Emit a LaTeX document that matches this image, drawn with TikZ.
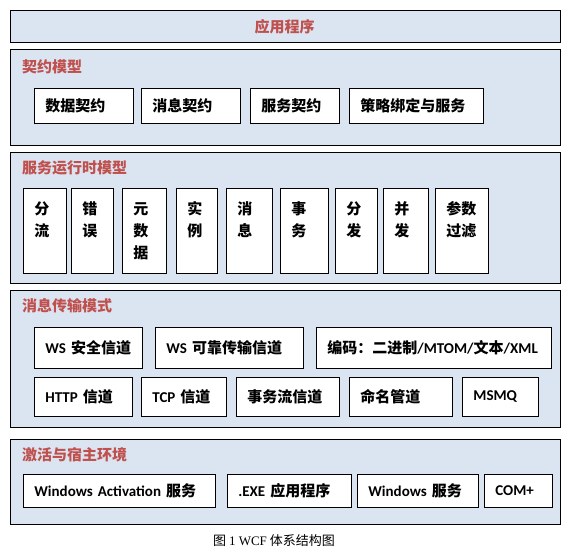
\documentclass[tikz,border=0pt]{standalone}
\usepackage{fontspec}
\setmainfont{Liberation Serif}
\newfontfamily\cjk{Noto Sans CJK SC}
\newfontfamily\lat{Carlito}
\usetikzlibrary{positioning}
\definecolor{panelblue}{HTML}{DBE5F1}
\definecolor{titlered}{HTML}{C0504D}

\begin{document}
\begin{tikzpicture}[x=1pt, y=-1pt,
  frame/.style={draw, fill=panelblue, anchor=north west, minimum width=550pt, inner sep=0pt, line width=1pt},
  cell/.style={draw, fill=white, anchor=north west, inner xsep=11pt, inner ysep=0pt, align=left, line width=0.8pt, font=\cjk\bfseries\fontsize{15}{22}\selectfont},
  col/.style={cell, text height=26pt, text depth=59pt},
  title/.style={anchor=west, inner sep=0pt, text=titlered, font=\cjk\bfseries\fontsize{15}{18}\selectfont},
  caption/.style={inner sep=0pt, font=\cjk\fontsize{13}{15}\selectfont}
]
\useasboundingbox (0,0) rectangle (571,553);

% layers
\node[frame, minimum height=32pt] (app) at (10,10.5) {};
\node[frame, minimum height=96pt] (contract) at (10,49) {};
\node[frame, minimum height=131pt] (runtime) at (10,152) {};
\node[frame, minimum height=137pt] (message) at (10,290) {};
\node[frame, minimum height=85pt] (host) at (10,439) {};

\node[title, anchor=center] (apptitle) at ([xshift=-1pt]app.center) {应用程序};
\node[title] (contracttitle) at ([xshift=12pt,yshift=-18pt]contract.north west) {契约模型};
\node[title] (runtimetitle) at ([xshift=12pt,yshift=-16pt]runtime.north west) {服务运行时模型};
\node[title] (messagetitle) at ([xshift=12pt,yshift=-16pt]message.north west) {消息传输模式};
\node[title] (hosttitle) at ([xshift=12pt,yshift=-16pt]host.north west) {激活与宿主环境};

% contract model
\node[cell, text width=77pt, minimum height=35pt] (datac) at (34,88) {数据契约};
\node[cell, text width=77pt, minimum height=35pt] (msgc) at (141,88) {消息契约};
\node[cell, text width=67pt, minimum height=35pt] (svcc) at (250,88) {服务契约};
\node[cell, text width=112pt, minimum height=35pt] (policy) at (349,88) {策略绑定与服务};

% service runtime
\node[col, text width=21pt] (split) at (23,188) {分\\流};
\node[col, text width=20pt] (fault) at (71,188) {错\\误};
\node[col, text width=22pt] (meta) at (122,188) {元\\数\\据};
\node[col, text width=19pt] (inst) at (176,188) {实\\例};
\node[col, text width=24pt] (msg) at (226,188) {消\\息};
\node[col, text width=26pt] (trans) at (280,188) {事\\务};
\node[col, text width=20pt] (dispatch) at (335,188) {分\\发};
\node[col, text width=23pt] (conc) at (383,188) {并\\发};
\node[col, text width=31pt] (param) at (435,188) {参数\\过滤};

% messaging
\node[cell, text width=86pt, minimum height=41pt] (wssec) at (34,327) {{\lat WS} 安全信道};
\node[cell, text width=126pt, minimum height=41pt] (wsrel) at (155,327) {{\lat WS} 可靠传输信道};
\node[cell, text width=213pt, minimum height=41pt] (enc) at (316,327) {编码：二进制{\lat /MTOM/}文本{\lat /XML}};
\node[cell, text width=76pt, minimum height=39pt] (http) at (34,377) {{\lat HTTP} 信道};
\node[cell, text width=63pt, minimum height=39pt] (tcp) at (141,377) {{\lat TCP} 信道};
\node[cell, text width=81pt, minimum height=39pt] (tflow) at (236,377) {事务流信道};
\node[cell, text width=81pt, minimum height=39pt] (pipe) at (349,377) {命名管道};
\node[cell, text width=54pt, minimum height=39pt] (msmq) at (462,377) {{\lat MSMQ}};

% activation and hosting
\node[cell, text width=170pt, minimum height=33pt] (was) at (23,474) {{\lat Windows Activation} 服务};
\node[cell, text width=102pt, minimum height=33pt] (exe) at (227,474) {{\lat .EXE} 应用程序};
\node[cell, text width=99pt, minimum height=33pt] (winsvc) at (357,474) {{\lat Windows} 服务};
\node[cell, text width=46pt, minimum height=33pt] (complus) at (484,474) {{\lat COM+}};

\node[caption] (cap) at (274,541) {图 {\rmfamily 1 WCF} 体系结构图};
\end{tikzpicture}
\end{document}
